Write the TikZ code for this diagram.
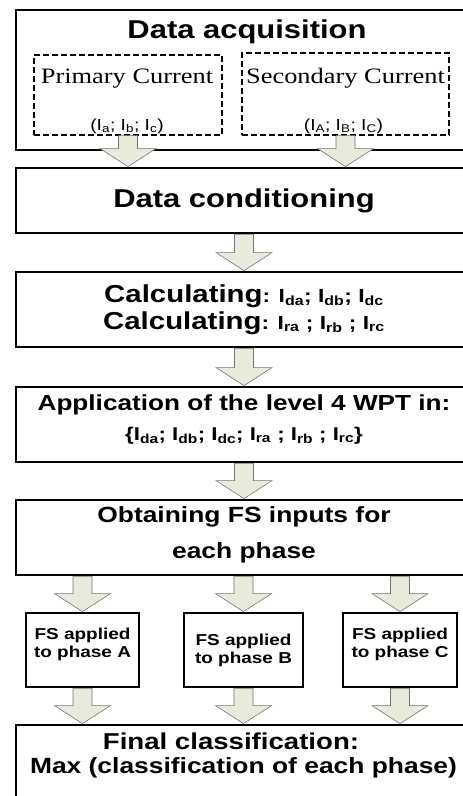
\documentclass[tikz,border=0pt]{standalone}
\usepackage{fontspec}
\setmainfont{Liberation Sans}[FakeStretch=1.2]
\newfontfamily\serifcur{Liberation Serif}[FakeStretch=1.2]
\usetikzlibrary{calc}
\usetikzlibrary{positioning}
\definecolor{arrowfill}{RGB}{233,234,219}
\tikzstyle{stage}  = [
    draw,
    line width=2.8pt,
    minimum width=456pt,
    inner sep=0pt,
    align=center,
    font=\bfseries
]
\tikzstyle{inbox}  = [
    draw,
    line width=1.3pt,
    dash pattern=on 6pt off 3pt,
    inner sep=0pt
]
\tikzstyle{phase}  = [
    draw,
    line width=2.8pt,
    minimum height=74pt,
    inner sep=0pt,
    align=center,
    font=\bfseries\fsz{15.8}{18}
]
\tikzstyle{blk}  = [
    draw=black!55,
    line width=0.6pt,
    fill=arrowfill
]
\newcommand{\fsz}[2]{\fontsize{#1}{#2}\selectfont}
\newcommand{\cur}[1]{I\textsubscript{#1}}
\newcommand{\blkarrow}[2]{%
  \draw[blk] ($(#1)+(-9.5,0)$) -- ($(#2)+(-9.5,-18)$) -- ($(#2)+(-28,-18)$) -- (#2)
    -- ($(#2)+(28,-18)$) -- ($(#2)+(9.5,-18)$) -- ($(#1)+(9.5,0)$) -- cycle;}

\begin{document}
\begin{tikzpicture}[x=1pt, y=-1pt]
\useasboundingbox (0,0) rectangle (463,796);
\clip (0,0) rectangle (463,796);

\node[stage, minimum height=140pt] (acq) at (244,80) {};
\node[anchor=base, font=\bfseries\fsz{25.8}{28}] (acqt) at (247,38.5) {Data acquisition};
\node[inbox, minimum width=188pt, minimum height=80pt] (prim) at (128,95) {};
\node[inbox, minimum width=207pt, minimum height=82pt] (sec) at (345.5,94) {};
\node[anchor=base, font=\serifcur\fsz{22}{25}] (primt) at (127,83) {Primary Current};
\node[anchor=base, font=\fsz{16}{18}] (primi) at (127,130) {(\cur{a}; \cur{b}; \cur{c})};
\node[anchor=base, font=\serifcur\fsz{22}{25}] (sect) at (345.5,83) {Secondary Current};
\node[anchor=base, font=\fsz{16}{18}] (seci) at (343.5,130) {(\cur{A}; \cur{B}; \cur{C})};

\node[stage, minimum height=65pt, font=\bfseries\fsz{25.8}{28}] (cond) at (244,200.5) {Data conditioning};
\node[stage, minimum height=75pt, font=\bfseries\fsz{24.5}{27}] (calc) at (244,309.5)
  {Calculating{\fsz{19}{27}: \cur{da}; \cur{db}; \cur{dc}}\\Calculating{\fsz{19}{27}: \cur{ra} ; \cur{rb} ; \cur{rc}}};
\node[stage, minimum height=75pt, font=\bfseries\fsz{21.8}{30}, text depth=14pt] (app) at (244,424.5)
  {Application of the level 4 WPT in:\\{\fsz{18.5}{30}\{\cur{da}; \cur{db}; \cur{dc}; \cur{ra} ; \cur{rb} ; \cur{rc}\}}};
\node[stage, minimum height=75pt, font=\bfseries\fsz{22}{36}, text depth=10pt] (obt) at (244,537.5) {Obtaining FS inputs for\\each phase};

\node[phase, minimum width=113pt, text depth=14pt] (pha) at (82.5,650) {FS applied\\to phase A};
\node[phase, minimum width=119pt] (phb) at (243.5,650) {FS applied\\to phase B};
\node[phase, minimum width=114pt, text depth=14pt] (phc) at (400,650) {FS applied\\to phase C};

\node[stage, minimum height=90pt] (fin) at (244,770) {};
\node[anchor=base, font=\bfseries\fsz{23}{24}] (fint) at (231,749) {Final classification:};
\node[anchor=base, font=\bfseries\fsz{22}{24}] (finm) at (243.5,773) {Max (classification of each phase)};

\blkarrow{prim.south}{prim.south |- cond.north}
\blkarrow{sec.south}{sec.south |- cond.north}
\blkarrow{cond.south}{calc.north}
\blkarrow{calc.south}{app.north}
\blkarrow{app.south}{obt.north}
\foreach \p in {pha,phb,phc} {\blkarrow{\p.north |- obt.south}{\p.north}}
\foreach \p in {pha,phb,phc} {\blkarrow{\p.south}{\p.south |- fin.north}}

\end{tikzpicture}
\end{document}
